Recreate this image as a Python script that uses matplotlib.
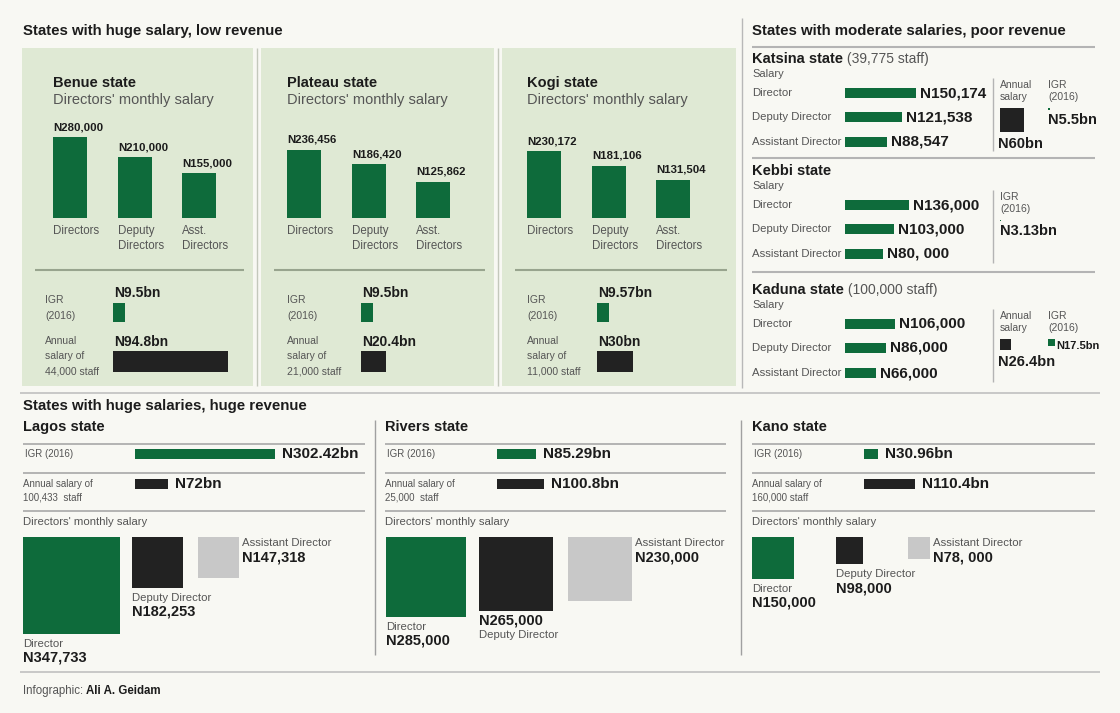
"""
Director salaries, IGR and wage bills of nine Nigerian states, redrawn as an infographic.
"""

import matplotlib
matplotlib.use('Agg')
import matplotlib.pyplot as plt
from matplotlib.patches import Rectangle


W, H = 1120, 713

GREEN = '#0e6b3b'
BLACK = '#222222'
LIGHT = '#c8c8c8'
PANEL = '#dfe9d4'
BG = '#f8f8f3'
TXT = '#1c1c1c'
GREY = '#555555'
RULE = '#a8a8a8'

# States with huge salary, low revenue
low_states = ['Benue state', 'Plateau state', 'Kogi state']
low_ranks = ['Directors', 'Deputy\nDirectors', 'Asst.\nDirectors']
low_salary = [[280000, 210000, 155000],
              [236456, 186420, 125862],
              [230172, 181106, 131504]]
low_igr = [9.5, 9.5, 9.57]
low_igr_labels = ['N9.5bn', 'N9.5bn', 'N9.57bn']
low_wage_bill = [94.8, 20.4, 30]
low_wage_labels = ['N94.8bn', 'N20.4bn', 'N30bn']
low_staff = ['44,000 staff', '21,000 staff', '11,000 staff']

# States with moderate salaries, poor revenue
mod_states = ['Katsina state', 'Kebbi state', 'Kaduna state']
mod_staff = [' (39,775 staff)', '', ' (100,000 staff)']
mod_ranks = ['Director', 'Deputy Director', 'Assistant Director']
mod_salary = [[150174, 121538, 88547],
              [136000, 103000, 80000],
              [106000, 86000, 66000]]
mod_salary_labels = [['N150,174', 'N121,538', 'N88,547'],
                     ['N136,000', 'N103,000', 'N80, 000'],
                     ['N106,000', 'N86,000', 'N66,000']]
mod_wage_bill = [60, None, 26.4]
mod_wage_labels = ['N60bn', None, 'N26.4bn']
mod_igr = [5.5, 3.13, 17.5]
mod_igr_labels = ['N5.5bn', 'N3.13bn', 'N17.5bn']

# States with huge salaries, huge revenue
big_states = ['Lagos state', 'Rivers state', 'Kano state']
big_igr = [302.42, 85.29, 30.96]
big_igr_labels = ['N302.42bn', 'N85.29bn', 'N30.96bn']
big_wage_bill = [72, 100.8, 110.4]
big_wage_labels = ['N72bn', 'N100.8bn', 'N110.4bn']
big_staff = ['100,433  staff', '25,000  staff', '160,000 staff']
big_ranks = ['Director', 'Deputy Director', 'Assistant Director']
big_salary = [[347733, 182253, 147318],
              [285000, 265000, 230000],
              [150000, 98000, 78000]]
big_salary_labels = [['N347,733', 'N182,253', 'N147,318'],
                     ['N285,000', 'N265,000', 'N230,000'],
                     ['N150,000', 'N98,000', 'N78, 000']]

plt.rcParams['font.family'] = ['Liberation Sans', 'DejaVu Sans']

fig = plt.figure(figsize=(W / 100, H / 100), dpi=100, facecolor=BG)
ax = fig.add_axes([0, 0, 1, 1])
ax.set_xlim(0, W)
ax.set_ylim(H, 0)
ax.axis('off')


def px_axes(x0, y0, x1, y1):
    # axes placed by a pixel box, top-left origin
    a = fig.add_axes([x0 / W, 1 - y1 / H, (x1 - x0) / W, (y1 - y0) / H])
    a.axis('off')
    return a


def label(x, y, s, size=7.5, color=GREY, bold=False, **kw):
    return ax.text(x, y, s, fontsize=size, color=color,
                   fontweight='bold' if bold else 'normal', va='center', **kw)


def rule(x0, x1, y, color=RULE, lw=1.2):
    ax.plot([x0, x1], [y, y], color=color, lw=lw, solid_capstyle='butt')


def vrule(x, y0, y1, color=RULE, lw=1.2):
    ax.plot([x, x], [y0, y1], color=color, lw=lw, solid_capstyle='butt')


def hbar(x0, yc, value, scale, color, height, text=None, size=10, gap=6):
    box = 420
    a = px_axes(x0, yc - height / 2, x0 + box, yc + height / 2)
    a.set_xlim(0, box / scale)
    a.set_ylim(0, 1)
    a.barh(0.5, value, height=1, color=color)
    if text:
        a.annotate(text, xy=(value, 0.5), xytext=(gap, 0),
                   textcoords='offset pixels', fontsize=size, fontweight='bold',
                   color=TXT, va='center', ha='left')
    return a


def square(x0, y0, value, scale, color):
    box = 110
    a = px_axes(x0, y0, x0 + box, y0 + box)
    a.set_xlim(0, box / scale)
    a.set_ylim(box / scale, 0)
    a.bar(0, value, width=value, align='edge', color=color)
    return a


def square_text(a, value, where, lines):
    # lines: list of (text, size, bold, color), stacked downwards
    if where == 'below':
        xy, dx, dy = (0, value), 0, -10
    else:
        xy, dx, dy = (value, 0), 3, -6
    for s, size, bold, color in lines:
        a.annotate(s, xy=xy, xytext=(dx, dy), textcoords='offset pixels',
                   fontsize=size, fontweight='bold' if bold else 'normal',
                   color=color, ha='left', va='center')
        dy -= 14


# ---------------- top left: huge salary, low revenue ----------------
label(23, 31, 'States with huge salary, low revenue', size=10.8, color=TXT, bold=True)

panel_x = [(22, 253), (261, 494), (502, 736)]
for x0, x1 in panel_x:
    ax.add_patch(Rectangle((x0, 48), x1 - x0, 338, color=PANEL, lw=0))
for xv in (257, 498):
    vrule(xv, 48, 386, color='#c4c8bc', lw=1)

group_x = [53, 287, 527]
igr_text_x = [45, 287, 527]
igr_bar_x = [113, 361, 597]
v_scale = 81 / 280000
bn_scale = 115 / 94.8
baseline = 218

for i, gx in enumerate(group_x):
    label(gx, 83, low_states[i], size=10.5, color=TXT, bold=True)
    label(gx, 100, "Directors' monthly salary", size=10.5, color=GREY)

    g = px_axes(gx, baseline - 110, gx + 170, baseline)
    g.set_xlim(0, 170)
    g.set_ylim(0, 110 / v_scale)
    pos = [17, 82, 146]
    g.bar(pos, low_salary[i], width=34, color=GREEN)
    for p, v, r in zip(pos, low_salary[i], low_ranks):
        g.annotate(f'N{v:,}', xy=(p - 17, v), xytext=(0, 10), textcoords='offset pixels',
                   fontsize=8.2, fontweight='bold', color=TXT, ha='left', va='center')
        g.annotate(r, xy=(p - 17, 0), xytext=(0, -7), textcoords='offset pixels',
                   fontsize=8.3, color=GREY, ha='left', va='top', linespacing=1.35)

    rule(panel_x[i][0] + 13, panel_x[i][1] - 9, 270, color='#98a48e', lw=1.5)

    label(igr_text_x[i], 300, 'IGR', size=7.5)
    label(igr_text_x[i], 316, '(2016)', size=7.5)
    hbar(igr_bar_x[i], 312.5, low_igr[i], bn_scale, GREEN, 19)
    label(igr_bar_x[i] + 1, 293, low_igr_labels[i], size=10, color=TXT, bold=True)

    label(igr_text_x[i], 341, 'Annual', size=7.5)
    label(igr_text_x[i], 356, 'salary of', size=7.5)
    label(igr_text_x[i], 371, low_staff[i], size=7.5)
    hbar(igr_bar_x[i], 361.5, low_wage_bill[i], bn_scale, BLACK, 21)
    label(igr_bar_x[i] + 1, 342, low_wage_labels[i], size=10, color=TXT, bold=True)

# ---------------- top right: moderate salaries, poor revenue ----------------
vrule(742, 18, 388, color='#b8b8b8', lw=1)
label(752, 31, 'States with moderate salaries, poor revenue', size=10.8, color=TXT, bold=True)
rule(752, 1095, 47, color='#b4b4b4', lw=1.5)
for y in (158, 272):
    rule(752, 1095, y, color='#b4b4b4', lw=1.5)

state_top = [59, 171, 290]
m_scale = 71 / 150174
sq_bn = 24 / 60
igr_x = [1048, 1000, 1048]
igr_where = ['below', 'below', 'right']

for i, ty in enumerate(state_top):
    t = label(752, ty, mod_states[i], size=10.5, color=TXT, bold=True)
    if mod_staff[i]:
        ax.annotate(mod_staff[i], xy=(1, 0.5), xycoords=t, fontsize=10, color=GREY,
                    va='center', ha='left')
    label(752, ty + 15, 'Salary', size=8)
    rows = [ty + 34, ty + 58, ty + 83]
    for r, v, s, y in zip(mod_ranks, mod_salary[i], mod_salary_labels[i], rows):
        label(752, y, r, size=8.2)
        hbar(845, y, v, m_scale, GREEN, 10, text=s, size=11, gap=4)

    vrule(993, ty + 19, ty + 92, color='#b4b4b4', lw=1)

    if mod_wage_bill[i] is not None:
        label(1000, ty + 26, 'Annual', size=7.5)
        label(1000, ty + 38, 'salary', size=7.5)
        a = square(1000, ty + 49, mod_wage_bill[i], sq_bn, BLACK)
        a.annotate(mod_wage_labels[i], xy=(0, mod_wage_bill[i]), xytext=(-2, -12),
                   textcoords='offset pixels', fontsize=10.5, fontweight='bold',
                   color=TXT, ha='left', va='center')

    label(igr_x[i], ty + 26, 'IGR', size=7.5)
    label(igr_x[i], ty + 38, '(2016)', size=7.5)
    a = square(igr_x[i], ty + 49, mod_igr[i], sq_bn, GREEN)
    if igr_where[i] == 'below':
        a.annotate(mod_igr_labels[i], xy=(0, mod_igr[i]), xytext=(0, -10),
                   textcoords='offset pixels', fontsize=10.5, fontweight='bold',
                   color=TXT, ha='left', va='center')
    else:
        a.annotate(mod_igr_labels[i], xy=(mod_igr[i], 0), xytext=(1, -7),
                   textcoords='offset pixels', fontsize=8, fontweight='bold',
                   color=TXT, ha='left', va='center')

# ---------------- bottom: huge salaries, huge revenue ----------------
rule(20, 1100, 393, color='#c0c0c0', lw=1.2)
label(23, 406, 'States with huge salaries, huge revenue', size=10.8, color=TXT, bold=True)

col_x = [23, 385, 752]
col_end = [365, 726, 1095]
for xv in (375, 741):
    vrule(xv, 420, 655, color='#a0a0a0', lw=1)

b_scale = 140 / 302.42
s_scale = 97 / 347733
sq_offsets = [[0, 109, 175], [1, 94, 183], [0, 84, 156]]
layouts = [
    [('below', 'name'), ('below', 'name'), ('right', 'name')],
    [('below', 'name'), ('below', 'value'), ('right', 'name')],
    [('below', 'name'), ('below', 'name'), ('right', 'name')],
]
sq_colors = [GREEN, BLACK, LIGHT]

for i, x0 in enumerate(col_x):
    label(x0, 427, big_states[i], size=10.5, color=TXT, bold=True)
    for y in (444, 473, 511):
        rule(x0, col_end[i], y, color='#a8a8a8', lw=1.2)

    label(x0 + 2, 454, 'IGR (2016)', size=7)
    hbar(x0 + 112, 454, big_igr[i], b_scale, GREEN, 10, text=big_igr_labels[i], size=11, gap=7)

    label(x0, 484, 'Annual salary of', size=7)
    label(x0, 497, big_staff[i], size=7)
    hbar(x0 + 112, 483.5, big_wage_bill[i], b_scale, BLACK, 10,
         text=big_wage_labels[i], size=11, gap=7)

    label(x0, 522, "Directors' monthly salary", size=8.2)

    for j, v in enumerate(big_salary[i]):
        a = square(x0 + sq_offsets[i][j], 537, v, s_scale, sq_colors[j])
        where, first = layouts[i][j]
        name = (big_ranks[j], 8.2, False, GREY)
        val = (big_salary_labels[i][j], 10.5, True, TXT)
        square_text(a, v, where, [name, val] if first == 'name' else [val, name])

rule(20, 1100, 672, color='#c0c0c0', lw=1.2)
t = label(23, 691, 'Infographic: ', size=8.3, color=GREY)
ax.annotate('Ali A. Geidam', xy=(1, 0.5), xycoords=t, fontsize=8.3, fontweight='bold',
            color=TXT, va='center', ha='left')

fig.savefig('out.png', dpi=100, facecolor=BG)
